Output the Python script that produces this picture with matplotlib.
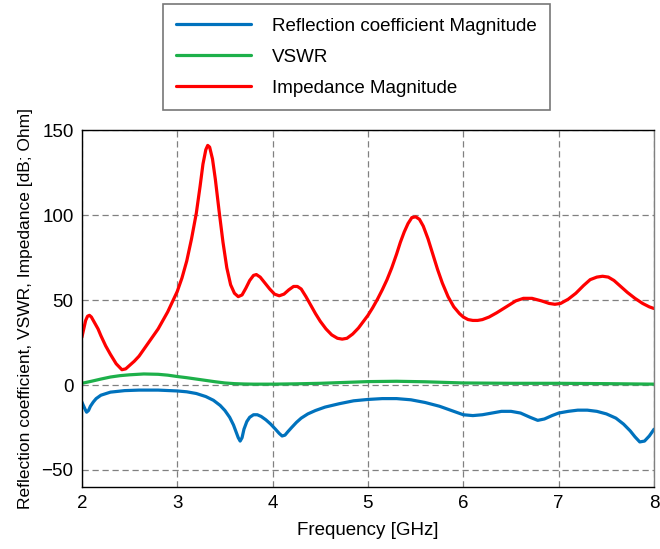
import matplotlib.pyplot as plt

plt.rcParams['font.family'] = ['Liberation Sans', 'DejaVu Sans']

# values (frequency in GHz)
f_imp = [2.0, 2.02, 2.04, 2.06, 2.08, 2.1, 2.13, 2.17, 2.2, 2.25, 2.3, 2.36, 2.42, 2.46,
         2.5, 2.55, 2.6, 2.7, 2.8, 2.9, 3.0, 3.05, 3.1, 3.15, 3.2, 3.24, 3.27, 3.3,
         3.32, 3.34, 3.37, 3.4, 3.44, 3.48, 3.52, 3.56, 3.6, 3.64, 3.68, 3.72, 3.76,
         3.8, 3.83, 3.87, 3.92, 3.97, 4.02, 4.07, 4.12, 4.17, 4.22, 4.26, 4.3, 4.35,
         4.4, 4.45, 4.5, 4.56, 4.62, 4.68, 4.73, 4.78, 4.84, 4.9, 4.96, 5.0, 5.05,
         5.1, 5.15, 5.2, 5.25, 5.3, 5.34, 5.38, 5.42, 5.46, 5.5, 5.54, 5.58, 5.63,
         5.68, 5.73, 5.78, 5.84, 5.9, 5.96, 6.0, 6.05, 6.1, 6.15, 6.2, 6.27, 6.35,
         6.45, 6.55, 6.63, 6.72, 6.82, 6.9, 6.96, 7.02, 7.1, 7.18, 7.26, 7.33, 7.4,
         7.46, 7.52, 7.58, 7.65, 7.72, 7.8, 7.88, 7.95, 8.0]
impedance = [28, 33, 38, 40.5, 41, 40, 37, 33, 29, 23, 18, 12.5, 9, 9.5,
             11.5, 14, 17, 25, 33, 43, 55, 63, 73, 86, 101, 117, 130, 138.5,
             141, 140, 133, 121, 102, 84, 69, 59, 54, 52, 53, 57, 61.5,
             64.5, 65, 63.5, 60, 56.5, 53.5, 52.5, 53.5, 56, 58, 58, 56.5, 52,
             47, 42, 37.5, 33, 29.5, 27.5, 27, 27.5, 30, 33.5, 38, 41, 45.5,
             50.5, 56, 62, 69, 77, 84, 90, 95, 98.5, 99, 97.5, 93.5, 86,
             77, 68, 60, 52, 46, 42, 40, 38.5, 38, 38, 38.5, 40, 42.5,
             46, 49.5, 51, 51, 49.5, 48, 47.5, 48, 50.5, 54, 58.5, 62, 63.5,
             64, 63.5, 61.5, 58, 54.5, 51, 48, 46, 45]

f_vswr = [2.0, 2.1, 2.2, 2.3, 2.4, 2.5, 2.65, 2.8, 2.9, 3.0, 3.1, 3.2, 3.3, 3.4,
          3.5, 3.6, 3.7, 3.8, 4.0, 4.25, 4.5, 4.75, 5.0, 5.3, 5.6, 6.0, 6.5,
          7.0, 7.5, 8.0]
vswr = [1, 2.2, 3.5, 4.7, 5.5, 6, 6.5, 6.3, 5.8, 5, 4.3, 3.5, 2.7, 1.9,
        1.2, 0.8, 0.6, 0.5, 0.5, 0.7, 1, 1.5, 2, 2.2, 1.9, 1.2, 1,
        1, 0.8, 0.5]

f_refl = [2.0, 2.02, 2.04, 2.05, 2.07, 2.09, 2.12, 2.15, 2.2, 2.3, 2.45, 2.6, 2.8,
          3.0, 3.1, 3.2, 3.3, 3.38, 3.45, 3.5, 3.55, 3.59, 3.62, 3.64, 3.66, 3.68,
          3.7, 3.73, 3.76, 3.8, 3.84, 3.88, 3.93, 3.98, 4.03, 4.07, 4.1, 4.13,
          4.16, 4.2, 4.25, 4.3, 4.37, 4.45, 4.55, 4.7, 4.85, 5.0, 5.15, 5.3, 5.45,
          5.6, 5.75, 5.9, 6.0, 6.1, 6.2, 6.3, 6.4, 6.5, 6.6, 6.7, 6.78, 6.85,
          6.93, 7.0, 7.1, 7.2, 7.3, 7.4, 7.5, 7.6, 7.68, 7.75, 7.8, 7.85, 7.9,
          7.95, 8.0]
reflection = [-10, -12.5, -15, -16, -15, -12.5, -10, -8, -6, -4.2, -3.3, -3, -3,
              -3.5, -4, -5, -6.8, -9, -12, -15, -19, -23.5, -28, -31, -33, -31,
              -26, -21.5, -19, -17.5, -17.5, -18.5, -20.5, -23, -26, -28.5, -30, -29.5,
              -27.5, -25, -22, -19.5, -17, -15, -13, -11, -9.3, -8.5, -8, -8, -8.7,
              -10.3, -12.5, -15.5, -17.5, -18, -17.5, -16.5, -15.5, -15.5, -16.5, -19, -20.8, -20,
              -18, -16.5, -15.5, -14.8, -14.8, -15.5, -17, -19.5, -23, -27, -30.5, -33.5, -33,
              -30, -26]

fig = plt.figure(figsize=(6.6, 5.49), dpi=100)
ax = fig.add_axes([0.124, 0.113, 0.867, 0.65])

kw = dict(lw=2.3, solid_joinstyle='round', solid_capstyle='round')
ax.plot(f_refl, reflection, color='#0072BD', label='Reflection coefficient Magnitude', **kw)
ax.plot(f_vswr, vswr, color='#1DB04A', label='VSWR', **kw)
ax.plot(f_imp, impedance, color='#FF0000', label='Impedance Magnitude', **kw)

ax.set_xlim(2, 8)
ax.set_ylim(-60, 150)
ax.set_xticks([2, 3, 4, 5, 6, 7, 8])
ax.set_yticks([-50, 0, 50, 100, 150])
ax.grid(True, linestyle=(0, (5, 3)), color='#808080', lw=0.9)
ax.tick_params(direction='in', length=0, labelsize=13.5, pad=6)
for s in ax.spines.values():
    s.set_linewidth(1.0)
ax.spines['right'].set_color('#808080')

ax.set_xlabel('Frequency [GHz]', fontsize=13.5, labelpad=7)
ax.set_ylabel('Reflection coefficient, VSWR, Impedance [dB; Ohm]', fontsize=12.5, labelpad=6)

h, l = ax.get_legend_handles_labels()
leg = fig.legend(h, l, loc='upper left', bbox_to_anchor=(0.247, 0.992),
                 fontsize=13.5, frameon=True, fancybox=False, edgecolor='#555555',
                 handlelength=4.0, handletextpad=1.1, borderpad=0.7, labelspacing=0.74,
                 borderaxespad=0)
leg.get_frame().set_linewidth(1.2)

fig.savefig('out.png', dpi=100)
